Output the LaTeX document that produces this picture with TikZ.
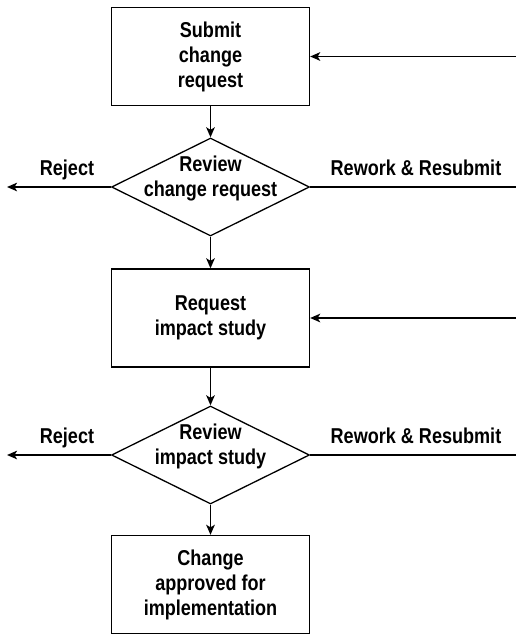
\documentclass[tikz,border=0pt]{standalone}
\usepackage{fontspec}
\setmainfont{Liberation Sans}[FakeStretch=0.84]
\usetikzlibrary{arrows.meta}
\usetikzlibrary{shapes.geometric, math}

\begin{document}
\begin{tikzpicture}[x=1pt,y=-1pt,
  font=\bfseries\fontsize{21.5}{25}\selectfont,
  stepbox/.style={draw,line width=1.3pt,minimum width=198pt,minimum height=98pt,align=center,inner sep=0pt},
  decision/.style={draw,diamond,aspect=2,line width=1.3pt,minimum width=198pt,minimum height=98pt,align=center,inner sep=-16pt},
  flow/.style={-{Stealth[length=10pt,width=8.5pt,inset=2.5pt]},line width=1.9pt},
  plain/.style={line width=1.9pt},
  tag/.style={anchor=base,inner sep=0pt}]
\tikzmath{
\xc=210.5;
\xr=516;
\xl=7;
}
\useasboundingbox (0,0) rectangle (516,635);

%the main column
\node[stepbox] (submit) at (\xc,56.5) {Submit\\change\\request};
\node[decision] (revreq) at (\xc,187) {Review\\change request\\[-4pt]};
\node[stepbox] (impact) at (\xc,318) {Request\\impact study};
\node[decision] (revimp) at (\xc,455) {Review\\impact study\\[-4pt]};
\node[stepbox] (approved) at (\xc,584.5) {Change\\approved for\\implementation};

\draw[flow] (submit) -- (revreq);
\draw[flow] (revreq) -- (impact);
\draw[flow] (impact) -- (revimp);
\draw[flow] (revimp) -- (approved);

%inputs from the right
\coordinate (in1) at (\xr,56.5);
\coordinate (in2) at (\xr,318);
\draw[flow] (in1) -- (submit);
\draw[flow] (in2) -- (impact);

%first review
\coordinate (rej1) at (\xl,187);
\coordinate (out1) at (\xr,187);
\draw[flow] (revreq) -- (rej1);
\draw[plain] (revreq) -- (out1);
\node[tag] (reject1) at (67,175) {Reject};
\node[tag] (rework1) at (416,175) {Rework \& Resubmit};

%second review
\coordinate (rej2) at (\xl,455);
\coordinate (out2) at (\xr,455);
\draw[flow] (revimp) -- (rej2);
\draw[plain] (revimp) -- (out2);
\node[tag] (reject2) at (67,443) {Reject};
\node[tag] (rework2) at (416,443) {Rework \& Resubmit};
\end{tikzpicture}
\end{document}
